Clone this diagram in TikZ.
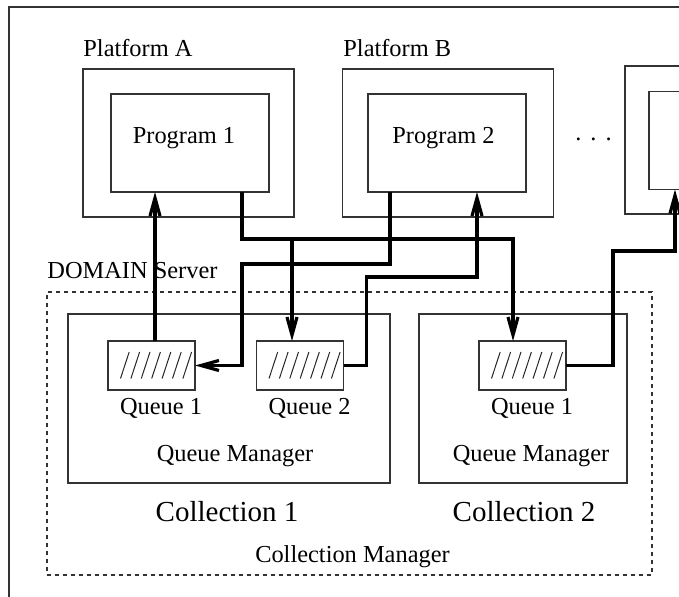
\documentclass[tikz,border=0pt]{standalone}
\usepackage{fontspec}
\setmainfont{Liberation Serif}
\usetikzlibrary{arrows.meta}

\tikzset{
  thinline/.style={draw=black!80, line width=0.6pt},
  platbox/.style={thinline, minimum width=105.5pt, minimum height=74pt, inner sep=0pt, outer sep=0pt},
  progbox/.style={thinline, minimum width=79pt, minimum height=49pt, inner sep=0pt, outer sep=0pt},
  queuebox/.style={thinline, minimum width=43.5pt, minimum height=24.5pt, inner sep=0pt, outer sep=0pt},
  collbox/.style={thinline, minimum height=84.5pt, inner sep=0pt, outer sep=0pt},
  flow/.style={line width=1.6pt, -{Straight Barb[length=9pt,width=5pt]}},
  txt/.style={font=\fontsize{12.2}{14}\selectfont, inner sep=0pt, anchor=base},
  bigtxt/.style={font=\fontsize{14.5}{17}\selectfont, inner sep=0pt, anchor=base},
}

\begin{document}
\begin{tikzpicture}[x=0.5pt, y=-0.5pt]
			\useasboundingbox (0,0) rectangle (679,597);
			
			%%%%% FRAME %%%%%
			\draw[thinline] (9,640) -- (9,7) -- (720,7);
			
			%%%%% PLATFORMS %%%%%
			\node[platbox] (platA) at (188.5,143) {};
			\node[platbox] (platB) at (448,143) {};
			\node[platbox] (platC) at (730.5,140) {};
			\node[progbox] (prog1) at (190,143) {};
			\node[progbox] (prog2) at (447,143) {};
			\node[progbox] (prog3) at (728,140.5) {};
			
			\node[txt, anchor=base west] at (83,57) {Platform A};
			\node[txt, anchor=base west] at (343,57) {Platform B};
			\node[txt] at (184,144) {Program 1};
			\node[txt] at (443.5,144) {Program 2};
			\node[txt] at (593.5,141) {.\kern0.37em.\kern0.37em.};
			
			%%%%% DOMAIN SERVER %%%%%
			\node[txt, anchor=base west] at (47,279) {DOMAIN Server};
			\node[draw=black!80, line width=0.6pt, dash pattern=on 2pt off 2pt, minimum width=302.5pt, minimum height=141.5pt, inner sep=0pt] (domain) at (349.5,433.5) {};
			
			\node[collbox, minimum width=161pt] (coll1) at (229,398.5) {};
			\node[collbox, minimum width=104pt] (coll2) at (523,398.5) {};
			
			\node[queuebox] (q1) at (151.5,365.5) {};
			\node[queuebox] (q2) at (300,365.5) {};
			\node[queuebox] (q3) at (522.5,365.5) {};
			\foreach \q in {q1,q2,q3}
				\foreach \k in {0,...,6}
					\draw[black!85, line width=0.5pt] ([shift={(-31+10.4*\k,13)}]\q.center) -- ++(8.7,-26.5);
			
			\node[txt] at (161,415) {Queue 1};
			\node[txt] at (309.5,415) {Queue 2};
			\node[txt] at (532,415) {Queue 1};
			\node[txt] at (235,462) {Queue Manager};
			\node[txt] at (531,462) {Queue Manager};
			\node[bigtxt] at (227,522) {Collection 1};
			\node[bigtxt] at (524,522) {Collection 2};
			\node[txt] at (352.5,562) {Collection Manager};
			
			%%%%% CONNECTORS %%%%%
			\coordinate (p1out) at ([xshift=26pt]prog1.south);
			\coordinate (p2out) at ([xshift=-28.5pt]prog2.south);
			\coordinate (p2in) at ([xshift=15pt]prog2.south);
			\coordinate (p3in) at ([xshift=-26.5pt]prog3.south);
			\coordinate (q2in) at ([xshift=-4pt]q2.north);
			\coordinate (q3in) at ([xshift=-4.75pt]q3.north);
			
			\draw[flow] ([xshift=1.75pt]q1.north) -- ([xshift=1.75pt]q1.north |- prog1.south);
			\draw[flow] (p1out) -- ++(0,47) -| (q3in);
			\draw[flow] (p1out) ++(0,47) -| (q2in);
			\draw[flow] (p2out) -- ++(0,72) -| ([xshift=23.5pt]q1.east) -- (q1.east);
			\draw[flow] (q2.east) -- ++(23,0) -- ++(0,-88.5) -| (p2in);
			\draw[flow] (q3.east) -- ++(47,0) -- ++(0,-114.5) -| (p3in);
			
\end{tikzpicture}
\end{document}
